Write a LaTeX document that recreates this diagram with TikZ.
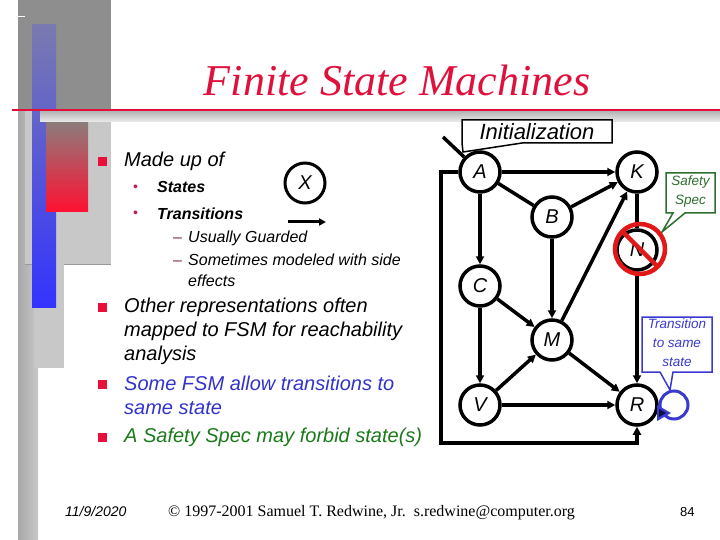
\documentclass[tikz,border=0pt]{standalone}
\usepackage{fontspec}
\setmainfont{Liberation Serif}
\newfontfamily\arialf{Liberation Sans}
\usetikzlibrary{arrows.meta,shapes.geometric}
\definecolor{titlered}{HTML}{E0103C}
\definecolor{bulletred}{HTML}{E8103A}
\definecolor{subbul}{HTML}{C02050}
\definecolor{dashcol}{HTML}{7A3040}
\definecolor{txtblue}{HTML}{3333CC}
\definecolor{txtgreen}{HTML}{1A7A1A}
\definecolor{specgreen}{HTML}{2E6E2E}
\definecolor{loopblue}{HTML}{3A3AD0}
\definecolor{nored}{HTML}{E01818}
\definecolor{decodark}{HTML}{8E8E8E}
\definecolor{decomid}{HTML}{A8A8A8}
\definecolor{decolight}{HTML}{C8C8C8}
\definecolor{bluetop}{HTML}{7A7AB0}
\definecolor{bluebot}{HTML}{3333FF}
\definecolor{redtop}{HTML}{8C7C7C}
\definecolor{redbot}{HTML}{FF1030}
\tikzset{
  statenode/.style={circle, draw=black, line width=3.5pt, minimum size=40pt, inner sep=0pt, fill=white,
    font=\arialf\itshape\fontsize{20}{24}\selectfont},
  edgearrow/.style={line width=3.5pt, -{Triangle[length=8pt,width=8pt]}},
  edgeplain/.style={line width=3.5pt},
  bodytxt/.style={anchor=base west, inner sep=0pt, font=\arialf\itshape\fontsize{20}{24}\selectfont},
  subtxt/.style={anchor=base west, inner sep=0pt, font=\arialf\bfseries\itshape\fontsize{16}{19}\selectfont},
  subsubtxt/.style={anchor=base west, inner sep=0pt, font=\arialf\itshape\fontsize{16}{19}\selectfont},
  calltxt/.style={inner sep=0pt, align=center, font=\arialf\itshape\fontsize{13.5}{19}\selectfont},
}
\begin{document}
\begin{tikzpicture}[x=1pt,y=-1pt]
\useasboundingbox (0,0) rectangle (720,540);
\fill[white] (0,0) rectangle (720,540);
% left decoration
\fill[decodark] (18,0) rectangle (111,110);
\fill[left color=decomid, right color=decolight] (18,110) rectangle (38,540);
\fill[decolight] (25,110) rectangle (111,264);
\draw[gray!80, line width=0.8pt] (25,264) -- (111,264);
\fill[decolight] (34,264) rectangle (64,368);
\fill[top color=bluetop, bottom color=bluebot] (32,25) rectangle (56,307);
\fill[top color=redtop, bottom color=redbot] (46,122) rectangle (88,212);
\fill[top color=gray!55, bottom color=gray!15] (40,112) rectangle (720,122);
\draw[titlered, line width=2pt] (12,110) -- (720,110);
\draw[white, line width=1pt] (18,17) -- (25,17);
% title
\node[anchor=base, inner sep=0pt, text=titlered, font=\itshape\fontsize{44}{50}\selectfont] (title) at (397,96) {Finite State Machines};
% bullets
\fill[bulletred] (98,157) rectangle (107,166);
\fill[bulletred] (98,303) rectangle (107,312);
\fill[bulletred] (98,380) rectangle (107,389);
\fill[bulletred] (98,433) rectangle (107,442);
\node[bodytxt] (t1) at (124,167) {Made up of};
\node[anchor=base west, inner sep=0pt, text=subbul, font=\arialf\fontsize{14}{16}\selectfont] (b2) at (133,192) {•};
\node[anchor=base west, inner sep=0pt, text=subbul, font=\arialf\fontsize{14}{16}\selectfont] (b3) at (133,218) {•};
\node[subtxt] (t2) at (157,193) {States};
\node[subtxt] (t3) at (157,219) {Transitions};
\node[anchor=base west, inner sep=0pt, text=dashcol, font=\arialf\fontsize{16}{19}\selectfont] (d4) at (173,243) {–};
\node[anchor=base west, inner sep=0pt, text=dashcol, font=\arialf\fontsize{16}{19}\selectfont] (d5) at (173,265) {–};
\node[subsubtxt] (t4) at (188,243) {Usually Guarded};
\node[subsubtxt] (t5) at (188,265) {Sometimes modeled with side};
\node[subsubtxt] (t6) at (188,286) {effects};
\node[bodytxt] (t7) at (124,312) {Other representations often};
\node[bodytxt] (t8) at (124,336) {mapped to FSM for reachability};
\node[bodytxt] (t9) at (124,360) {analysis};
\node[bodytxt, text=txtblue] (t10) at (124,390) {Some FSM allow transitions to};
\node[bodytxt, text=txtblue] (t11) at (124,414) {same state};
\node[bodytxt, text=txtgreen] (t12) at (124,442) {A Safety Spec may forbid state(s)};
% legend X
\node[circle, draw=black, line width=3pt, minimum size=40pt, inner sep=0pt,
  font=\arialf\itshape\fontsize{20}{24}\selectfont] (X) at (305,183) {X};
\coordinate (xa) at (288,222);
\coordinate (xb) at (326,222);
\draw[line width=3pt, -{Triangle[length=7pt,width=7pt]}] (xa) -- (xb);
% initialization callout
\draw[black, line width=1.5pt, fill=white] (462,120) -- (612,120) -- (612,143) -- (522,143) -- (463,152) -- (462,143) -- cycle;
\node[inner sep=0pt, font=\arialf\itshape\fontsize{22}{26}\selectfont] (init) at (537,132) {Initialization};
% states
\node[statenode] (A) at (480,172) {A};
\node[statenode] (K) at (637,172) {K};
\node[statenode] (B) at (552,217) {B};
\node[statenode] (N) at (637,250) {N};
\node[statenode] (C) at (480,286) {C};
\node[statenode] (M) at (552,340) {M};
\node[statenode] (V) at (480,405) {V};
\node[statenode] (R) at (637,405) {R};
\coordinate (start) at (443,137);
\draw[edgeplain] (start) -- (A);
\draw[edgearrow] (A) -- (K);
\draw[edgeplain] (A) -- (B);
\draw[edgearrow] (B) -- (K);
\draw[edgearrow] (A) -- (C);
\draw[edgearrow] (B) -- (M);
\draw[edgearrow] (M) -- (K);
\draw[edgeplain] (K) -- (N);
\draw[edgearrow] (N) -- (R);
\draw[edgearrow] (C) -- (M);
\draw[edgearrow] (C) -- (V);
\draw[edgearrow] (V) -- (M);
\draw[edgearrow] (M) -- (R);
\draw[edgearrow] (V) -- (R);
\coordinate (lp1) at (441,172);
\coordinate (lp2) at (441,443);
\coordinate (lp3) at (637,443);
\draw[edgearrow] (A.west) -- (lp1) -- (lp2) -- (lp3) -- (R.south);
% safety spec callout
\draw[specgreen, line width=1.5pt, fill=white] (666,173) -- (715,173) -- (715,213) -- (685,213) -- (662,232) -- (673,213) -- (666,213) -- cycle;
\node[calltxt, text=specgreen] (spec) at (690.5,192) {Safety\\Spec};
% prohibition sign
\draw[nored, line width=4.5pt] (640,249) circle[radius=25];
\draw[nored, line width=4.5pt] (622,231) -- (658,267);
% transition callout
\draw[loopblue, line width=1.5pt, fill=white] (642,317) -- (712,317) -- (712,372) -- (673,372) -- (670,390) -- (660,372) -- (642,372) -- cycle;
\node[calltxt, text=loopblue] (trans) at (677,343) {Transition\\to same\\state};
% self loop
\coordinate (loopc) at (674,405);
\draw[loopblue, line width=3pt] (loopc) circle[radius=14];
\fill[loopblue] (657,405) -- (657,421) -- (671,413) -- cycle;
\fill[black!70!loopblue] (659,409) -- (659,417) -- (666,413) -- cycle;
% footer
\node[anchor=base west, inner sep=0pt, font=\arialf\itshape\fontsize{14}{16}\selectfont] (date) at (65,516) {11/9/2020};
\node[anchor=base west, inner sep=0pt, font=\fontsize{16}{18}\selectfont] (copy) at (168,516) {© 1997-2001 Samuel T. Redwine, Jr.\ \ s.redwine@computer.org};
\node[anchor=base west, inner sep=0pt, font=\arialf\fontsize{13}{15}\selectfont] (pg) at (680,516) {84};
\end{tikzpicture}
\end{document}
